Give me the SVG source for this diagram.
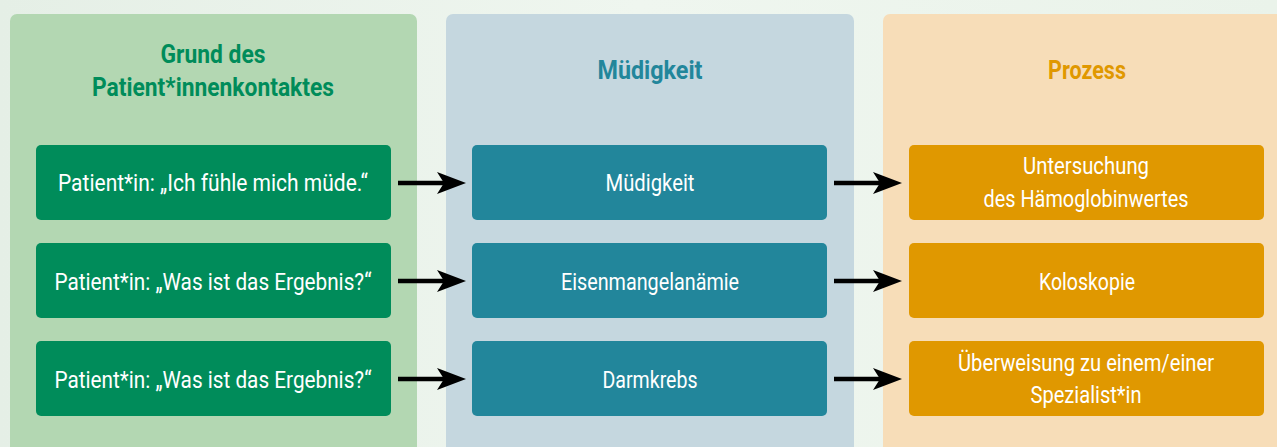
<svg xmlns="http://www.w3.org/2000/svg" width="1277" height="447" viewBox="0 0 1277 447">
<defs>
<linearGradient id="bg" x1="0" y1="0" x2="1" y2="0">
<stop offset="0" stop-color="#e5efe6"/><stop offset="0.5" stop-color="#eff6ef"/><stop offset="1" stop-color="#eaf3ea"/>
</linearGradient>
<marker id="ah" viewBox="0 0 29 22" refX="9" refY="11" markerWidth="29" markerHeight="22" markerUnits="userSpaceOnUse" orient="auto">
<path d="M0,0 L29,11 L0,22 L7,11 Z" fill="#000"/>
</marker>
<style>
text{font-family:"Roboto","Liberation Sans",sans-serif;text-anchor:middle;}
.h{font-size:25px;font-weight:bold;}
.t{font-size:23px;fill:#ffffff;}
.g{fill:#008c5a;}
.b{fill:#22869b;}
.o{fill:#e09800;}
.conn{stroke:#000;stroke-width:4.5;fill:none;marker-end:url(#ah);}
</style>
</defs>
<rect x="0" y="0" width="1277" height="447" fill="url(#bg)"/>
<g id="col-grund">
<rect x="10" y="14" width="407" height="450" rx="7" fill="#b3d7b2"/>
<text class="h g" x="213" y="63" textLength="105" lengthAdjust="spacingAndGlyphs">Grund des</text>
<text class="h g" x="213" y="96" textLength="242" lengthAdjust="spacingAndGlyphs">Patient*innenkontaktes</text>
</g>
<g id="col-muedigkeit">
<rect x="446" y="14" width="408" height="450" rx="7" fill="#c5d7df"/>
<text class="h b" x="650" y="79" textLength="105" lengthAdjust="spacingAndGlyphs">Müdigkeit</text>
</g>
<g id="col-prozess">
<rect x="883" y="14" width="408" height="450" rx="7" fill="#f7ddb8"/>
<text class="h o" x="1087" y="79" textLength="78" lengthAdjust="spacingAndGlyphs">Prozess</text>
</g>
<g id="n-g1"><rect class="g" x="36" y="145" width="355" height="75" rx="5"/><text class="t" x="213" y="191" textLength="310" lengthAdjust="spacingAndGlyphs">Patient*in: „Ich fühle mich müde.“</text></g>
<g id="n-g2"><rect class="g" x="36" y="243" width="355" height="75" rx="5"/><text class="t" x="213" y="290" textLength="317" lengthAdjust="spacingAndGlyphs">Patient*in: „Was ist das Ergebnis?“</text></g>
<g id="n-g3"><rect class="g" x="36" y="341" width="355" height="75" rx="5"/><text class="t" x="213" y="388" textLength="317" lengthAdjust="spacingAndGlyphs">Patient*in: „Was ist das Ergebnis?“</text></g>
<g id="n-b1"><rect class="b" x="472" y="145" width="355" height="75" rx="5"/><text class="t" x="650" y="191" textLength="89" lengthAdjust="spacingAndGlyphs">Müdigkeit</text></g>
<g id="n-b2"><rect class="b" x="472" y="243" width="355" height="75" rx="5"/><text class="t" x="650" y="290" textLength="178" lengthAdjust="spacingAndGlyphs">Eisenmangelanämie</text></g>
<g id="n-b3"><rect class="b" x="472" y="341" width="355" height="75" rx="5"/><text class="t" x="650" y="388" textLength="95" lengthAdjust="spacingAndGlyphs">Darmkrebs</text></g>
<g id="n-o1"><rect class="o" x="909" y="145" width="355" height="75" rx="5"/><text class="t" x="1086" y="174" textLength="126" lengthAdjust="spacingAndGlyphs">Untersuchung</text><text class="t" x="1086" y="207" textLength="205" lengthAdjust="spacingAndGlyphs">des Hämoglobinwertes</text></g>
<g id="n-o2"><rect class="o" x="909" y="243" width="355" height="75" rx="5"/><text class="t" x="1087" y="290" textLength="96" lengthAdjust="spacingAndGlyphs">Koloskopie</text></g>
<g id="n-o3"><rect class="o" x="909" y="341" width="355" height="75" rx="5"/><text class="t" x="1086" y="371" textLength="256" lengthAdjust="spacingAndGlyphs">Überweisung zu einem/einer</text><text class="t" x="1086" y="403" textLength="111" lengthAdjust="spacingAndGlyphs">Spezialist*in</text></g>
<g id="connectors">
<path class="conn" d="M398,183 H446"/>
<path class="conn" d="M398,281 H446"/>
<path class="conn" d="M398,379 H446"/>
<path class="conn" d="M834,183 H882"/>
<path class="conn" d="M834,281 H882"/>
<path class="conn" d="M834,379 H882"/>
</g>
</svg>
